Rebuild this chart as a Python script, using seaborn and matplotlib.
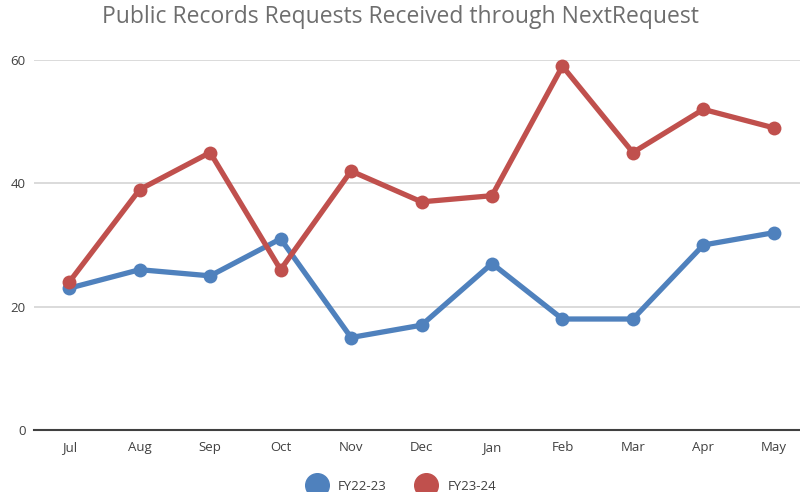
import matplotlib.pyplot as plt
import seaborn as sns
import pandas as pd

# ==========================================
# DATA

months = ["Jul", "Aug", "Sep", "Oct", "Nov", "Dec", "Jan", "Feb", "Mar", "Apr", "May"]
fy22_23 = [23, 26, 25, 31, 15, 17, 27, 18, 18, 30, 32]
fy23_24 = [24, 39, 45, 26, 42, 37, 38, 59, 45, 52, 49]
series_names = ["FY22-23", "FY23-24"]

df = pd.DataFrame({
    "month": months * 2,
    "pos": list(range(len(months))) * 2,
    "requests": fy22_23 + fy23_24,
    "series": [series_names[0]] * len(months) + [series_names[1]] * len(months),
})

# ==========================================
# CHART

sns.set_style("white")
plt.rcParams['font.family'] = ['Open Sans', 'DejaVu Sans']

fig = plt.figure(figsize=(8, 4.92), dpi=100)
ax = fig.add_axes([0.0425, 0.126, 0.96, 0.752])

palette = {"FY22-23": "#4F81BD", "FY23-24": "#C0504D"}

sns.lineplot(
    data=df,
    x="pos",
    y="requests",
    hue="series",
    palette=palette,
    linewidth=3.8,
    marker="o",
    markersize=10,
    markeredgewidth=0,
    ax=ax,
    legend=False,
    clip_on=False,
    zorder=3,
)

ax.set_xlim(-0.5, 10.4)
ax.set_ylim(0, 60)
ax.set_yticks([0, 20, 40, 60])
ax.set_xticks(range(len(months)))
ax.set_xticklabels(months)
ax.set_xlabel("")
ax.set_ylabel("")

ax.grid(axis="y", color="#D4D4D4", linewidth=1.2)
ax.set_axisbelow(True)
for side in ["top", "right", "left"]:
    ax.spines[side].set_visible(False)
ax.spines["bottom"].set_color("#404040")
ax.spines["bottom"].set_linewidth(1.5)

ax.tick_params(axis="both", length=0, labelsize=9.5, colors="#404040")
ax.tick_params(axis="x", pad=8)
ax.tick_params(axis="y", pad=6)

fig.suptitle(
    "Public Records Requests Received through NextRequest",
    x=0.5, y=0.99, fontsize=16.5, color="#6E6E6E"
)

handles = [
    plt.Line2D([], [], linestyle="none", marker="o", markersize=17,
               color=palette[name], label=name)
    for name in series_names
]
fig.legend(
    handles=handles,
    loc="center",
    bbox_to_anchor=(0.5, 0.012),
    ncol=2,
    frameon=False,
    fontsize=9.5,
    labelcolor="#404040",
    handletextpad=0.6,
    columnspacing=2.0,
)

plt.savefig("out.png", dpi=100)
